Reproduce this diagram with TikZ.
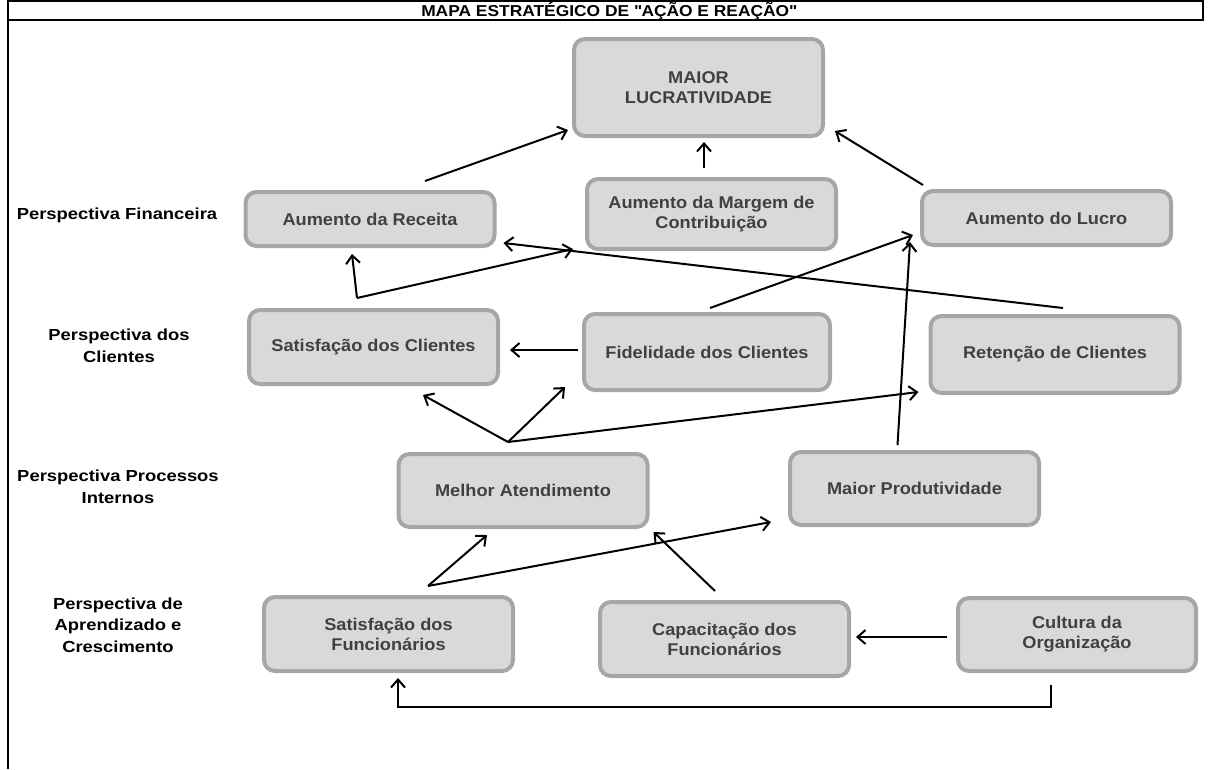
\documentclass[tikz,border=0pt]{standalone}
\usepackage{fontspec}
\setmainfont{Liberation Sans}
\newfontfamily\boxfont{Liberation Sans}[FakeStretch=1.07]
\newfontfamily\labelfont{Liberation Sans}[FakeStretch=1.15]
\newfontfamily\titlefont{Liberation Sans}[FakeStretch=1.1]
\usetikzlibrary{calc,arrows.meta}

\definecolor{boxfill}{HTML}{D9D9D9}
\definecolor{boxline}{HTML}{A6A6A6}
\definecolor{boxtext}{HTML}{404040}

\tikzset{
  goal/.style={draw=boxline,fill=boxfill,line width=4pt,rounded corners=11pt,
    minimum width=249pt,minimum height=#1,align=center,inner sep=0pt,
    text=boxtext,font=\boxfont\bfseries\fontsize{17}{20}\selectfont},
  persp/.style={align=center,font=\labelfont\bfseries\fontsize{16}{21.5}\selectfont},
  link/.style={line width=2pt,-{Straight Barb[length=8pt,width=14pt,line width=2pt]}},
}

\begin{document}
\begin{tikzpicture}[x=1pt,y=-1pt]
\useasboundingbox (0,0) rectangle (1210,769);
% moldura e titulo
\draw[line width=1.5pt] (8,769) -- (8,1) -- (1203,1) -- (1203,20) -- (8,20);
\node[font=\titlefont\bfseries\fontsize{15.8}{17}\selectfont] (titulo) at (609,11.2) {MAPA ESTRATÉGICO DE \textquotedbl AÇÃO E REAÇÃO\textquotedbl};

% perspectivas
\node[persp] (pfin) at (117,215) {Perspectiva Financeira};
\node[persp] (pcli) at (119,346) {Perspectiva dos\\Clientes};
\node[persp] (pproc) at (118,487) {Perspectiva Processos\\Internos};
\node[persp] (paprend) at (118,625) {Perspectiva de\\Aprendizado e\\Crescimento};

% objetivos
\node[goal=97] (lucrmax) at (698.5,87.5) {MAIOR\\LUCRATIVIDADE};
\node[goal=54] (receita) at (370,219) {Aumento da Receita};
\node[goal=70] (margem) at (711.5,214) {Aumento da Margem de\\Contribuição};
\node[goal=54] (lucro) at (1046.5,218) {Aumento do Lucro};
\node[goal=74] (satcli) at (373.5,347) {Satisfação dos Clientes};
\node[goal=76,minimum width=246pt] (fidel) at (707,352) {Fidelidade dos Clientes};
\node[goal=77] (reten) at (1055,354.5) {Retenção de Clientes};
\node[goal=73] (atend) at (523,490.5) {Melhor Atendimento};
\node[goal=73] (produt) at (914.5,488.5) {Maior Produtividade};
\node[goal=74] (satfunc) at (388.5,634) {Satisfação dos\\Funcionários};
\node[goal=74] (capac) at (724.5,639) {Capacitação dos\\Funcionários};
\node[goal=73,minimum width=238pt] (cultura) at (1077,634.5) {Cultura da\\Organização};

% pontos de ramificacao
\coordinate (j1) at ($(satcli.north)+(-16.5,-10)$);
\coordinate (j2) at ($(atend.north)+(-15,-10)$);
\coordinate (j3) at ($(satfunc.north)+(39.5,-9)$);

% ligacoes
\draw[link] ($(receita.north)+(55,-9)$) -- ($(lucrmax.south west)+(-4,-8)$);
\draw[link] ($(margem.north)+(-7.5,-9)$) -- ($(lucrmax.south)+(5.5,4)$);
\draw[link] ($(lucro.north west)+(3,-4)$) -- ($(lucrmax.south east)+(10,-7)$);
\draw[link] (j1) -- ($(receita.south)+(-18,6)$);
\draw[link] (j1) -- ($(margem.south west)+(-12,-2)$);
\draw[link] ($(reten.north)+(8,-6)$) -- ($(receita.south east)+(7,-5)$);
\draw[link] ($(fidel.north)+(3,-4)$) -- ($(lucro.south west)+(-7,-12)$);
\draw[link] ($(produt.north)+(-17,-5)$) -- ($(lucro.south west)+(-10,-5)$);
\draw[link] ($(fidel.west)+(-4,-2)$) -- ($(satcli.east)+(10,3)$);
\draw[link] (j2) -- ($(satcli.south)+(49.5,9)$);
\draw[link] (j2) -- ($(fidel.south west)+(-17,-5)$);
\draw[link] (j2) -- ($(reten.south west)+(-10,-3)$);
\draw[link] (j3) -- ($(atend.south)+(-36,6)$);
\draw[link] (j3) -- ($(produt.south west)+(-17,-5)$);
\draw[link] ($(capac.north)+(-9.5,-9)$) -- ($(atend.south east)+(4,3)$);
\draw[link] ($(cultura.west)+(-9,2.5)$) -- ($(capac.east)+(5,-2)$);
\draw[link] ($(cultura.south)+(-26,12)$) -- ++(0,22) -| ($(satfunc.south)+(9.5,5)$);
\end{tikzpicture}
\end{document}
